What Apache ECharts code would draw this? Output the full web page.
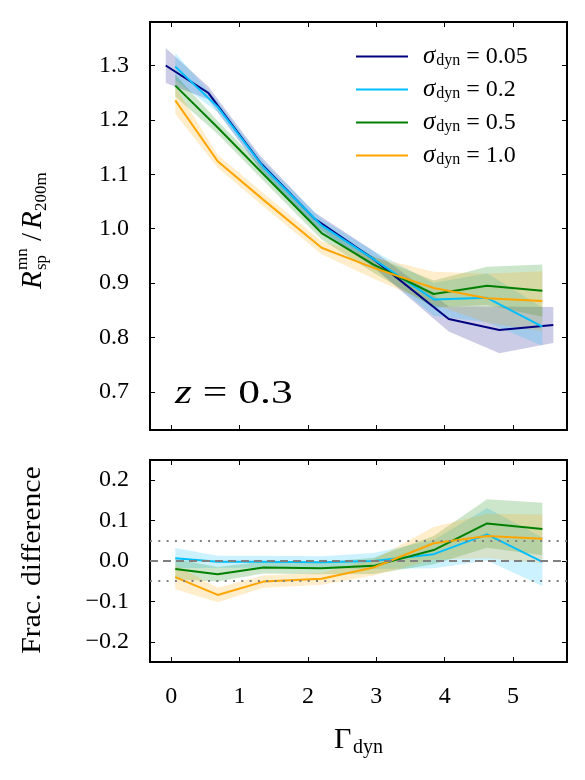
<!DOCTYPE html>
<html>
<head>
<meta charset="utf-8">
<script src="https://cdn.jsdelivr.net/npm/echarts@6/dist/echarts.min.js"></script>
<style>
  html, body { margin: 0; padding: 0; background: #fff; }
  #main { width: 585px; height: 780px; }
</style>
</head>
<body>
<div id="main"></div>
<script>
// reference bin (sigma_dyn = 0.05), its bins sit a bit left of the others
const darkX = [-0.08, 0.54, 1.30, 2.10, 2.95, 4.06, 4.80, 5.59];
const darkY = [1.300, 1.250, 1.122, 1.018, 0.945, 0.834, 0.814, 0.823];
const darkErr = [0.032, 0.012, 0.012, 0.012, 0.015, 0.023, 0.043, 0.033];

// bins for the other three
const binX = [0.06, 0.68, 1.35, 2.20, 2.96, 3.84, 4.62, 5.43];
const lightY = [1.298, 1.224, 1.113, 1.006, 0.944, 0.870, 0.873, 0.820];
const lightErr = [0.025, 0.010, 0.010, 0.012, 0.015, 0.030, 0.045, 0.035];
const greenY = [1.263, 1.186, 1.100, 0.992, 0.934, 0.880, 0.895, 0.886];
const greenErr = [0.020, 0.012, 0.012, 0.012, 0.015, 0.025, 0.035, 0.048];
const orangeY = [1.236, 1.124, 1.053, 0.965, 0.928, 0.891, 0.872, 0.867];
const orangeErr = [0.025, 0.012, 0.012, 0.012, 0.020, 0.030, 0.045, 0.055];

// fractional difference w.r.t. sigma_dyn = 0.05
const lightFrac = [0.007, -0.002, -0.002, -0.003, 0.000, 0.017, 0.066, -0.002];
const lightFracErr = [0.025, 0.015, 0.015, 0.015, 0.020, 0.035, 0.065, 0.060];
const greenFrac = [-0.020, -0.033, -0.016, -0.018, -0.012, 0.027, 0.093, 0.079];
const greenFracErr = [0.025, 0.018, 0.015, 0.015, 0.020, 0.035, 0.060, 0.065];
const orangeFrac = [-0.040, -0.084, -0.051, -0.044, -0.016, 0.044, 0.062, 0.055];
const orangeFracErr = [0.030, 0.018, 0.015, 0.015, 0.020, 0.040, 0.055, 0.060];

const sigmaNames = ["0.05", "0.2", "0.5", "1.0"];
const xTicks = [0, 1, 2, 3, 4, 5];
const topYTicks = [0.7, 0.8, 0.9, 1.0, 1.1, 1.2, 1.3];
const botYTicks = [-0.2, -0.1, 0.0, 0.1, 0.2];
const zeroLine = 0;
const dotLines = [0.05, -0.05];

const FONT = '"Liberation Serif", "DejaVu Serif", serif';
const colors = ["#000080", "#00bfff", "#008000", "#ffa500"];

const chart = echarts.init(document.getElementById("main"), null, { renderer: "canvas" });

const fmt = (v) => v.toFixed(1).replace("-", "\u2212");

const band = (gi, xs, ys, errs, color) => ({
  type: "custom",
  xAxisIndex: gi * 2,
  yAxisIndex: gi * 2,
  z: 1,
  silent: true,
  data: xs.map((x, i) => [x, ys[i]]),
  renderItem: (params, api) => {
    if (params.dataIndex !== 0) return null;
    const up = xs.map((x, i) => api.coord([x, ys[i] + errs[i]]));
    const lo = xs.map((x, i) => api.coord([x, ys[i] - errs[i]])).reverse();
    return {
      type: "polygon",
      shape: { points: up.concat(lo) },
      style: { fill: color, opacity: 0.2 },
    };
  },
});

const line = (gi, name, xs, ys, color) => ({
  type: "line",
  name: name,
  xAxisIndex: gi * 2,
  yAxisIndex: gi * 2,
  z: 3,
  symbol: "none",
  silent: true,
  color: color,
  lineStyle: { color: color, width: 2 },
  data: xs.map((x, i) => [x, ys[i]]),
});

const xAx = (gi, pos, labels) => ({
  type: "value",
  gridIndex: gi,
  position: pos,
  min: -0.31,
  max: 5.79,
  axisLine: { show: false, onZero: false },
  splitLine: { show: false },
  axisTick: { show: true, inside: true, length: 5, customValues: xTicks, lineStyle: { color: "#000", width: 1 } },
  axisLabel: {
    show: labels,
    customValues: xTicks,
    margin: 23,
    fontFamily: FONT,
    fontSize: 24,
    color: "#000",
  },
});

const yAx = (gi, pos, labels, min, max, ticks) => ({
  type: "value",
  gridIndex: gi,
  position: pos,
  min: min,
  max: max,
  axisLine: { show: false, onZero: false },
  splitLine: { show: false },
  axisTick: { show: true, inside: true, length: 5, customValues: ticks, lineStyle: { color: "#000", width: 1 } },
  axisLabel: {
    show: labels,
    customValues: ticks,
    margin: 21,
    fontFamily: FONT,
    fontSize: 24,
    color: "#000",
    formatter: fmt,
  },
});

const series = [
  band(0, darkX, darkY, darkErr, colors[0]),
  band(0, binX, lightY, lightErr, colors[1]),
  band(0, binX, greenY, greenErr, colors[2]),
  band(0, binX, orangeY, orangeErr, colors[3]),
  line(0, sigmaNames[0], darkX, darkY, colors[0]),
  line(0, sigmaNames[1], binX, lightY, colors[1]),
  line(0, sigmaNames[2], binX, greenY, colors[2]),
  line(0, sigmaNames[3], binX, orangeY, colors[3]),

  band(1, binX, lightFrac, lightFracErr, colors[1]),
  band(1, binX, greenFrac, greenFracErr, colors[2]),
  band(1, binX, orangeFrac, orangeFracErr, colors[3]),
  {
    type: "line",
    xAxisIndex: 2,
    yAxisIndex: 2,
    data: [],
    z: 2,
    markLine: {
      silent: true,
      symbol: "none",
      label: { show: false },
      data: [
        { yAxis: zeroLine, lineStyle: { color: "#808080", width: 2, type: [8, 5] } },
        ...dotLines.map((v) => ({ yAxis: v, lineStyle: { color: "#808080", width: 2, type: [2, 6.3] } })),
      ],
    },
  },
  line(1, "f1", binX, lightFrac, colors[1]),
  line(1, "f2", binX, greenFrac, colors[2]),
  line(1, "f3", binX, orangeFrac, colors[3]),
];

const option = {
  backgroundColor: "#fff",
  animation: false,
  grid: [
    { left: 150, top: 22, width: 417, height: 408, show: true, borderColor: "#000", borderWidth: 2, backgroundColor: "transparent" },
    { left: 150, top: 460, width: 417, height: 202, show: true, borderColor: "#000", borderWidth: 2, backgroundColor: "transparent" },
  ],
  xAxis: [xAx(0, "bottom", false), xAx(0, "top", false), xAx(1, "bottom", true), xAx(1, "top", false)],
  yAxis: [
    yAx(0, "left", true, 0.63, 1.38, topYTicks),
    yAx(0, "right", false, 0.63, 1.38, topYTicks),
    yAx(1, "left", true, -0.25, 0.25, botYTicks),
    yAx(1, "right", false, -0.25, 0.25, botYTicks),
  ],
  legend: {
    data: sigmaNames,
    orient: "vertical",
    left: 351,
    top: 39,
    icon: "rect",
    itemWidth: 52,
    itemHeight: 2,
    itemGap: 8,
    selectedMode: false,
    formatter: (name) => "{s|\u03c3}{sub|dyn}{t| = " + name + "}",
    textStyle: {
      rich: {
        s: { fontFamily: FONT, fontStyle: "italic", fontSize: 25, color: "#000", padding: [0, 0, 0, 10] },
        sub: { fontFamily: FONT, fontSize: 16, color: "#000", padding: [9, 0, 0, 1] },
        t: { fontFamily: FONT, fontSize: 24, color: "#000" },
      },
    },
  },
  graphic: [
    {
      type: "group",
      x: 33,
      y: 229,
      rotation: Math.PI / 2,
      children: [
        { type: "text", x: -60, y: 0, style: { text: "R", font: "italic 29px " + FONT, fill: "#000", verticalAlign: "middle" } },
        { type: "text", x: -41, y: -10, style: { text: "mn", font: "17px " + FONT, fill: "#000", verticalAlign: "middle" } },
        { type: "text", x: -41, y: 9, style: { text: "sp", font: "17px " + FONT, fill: "#000", verticalAlign: "middle" } },
        { type: "text", x: -12, y: 0, style: { text: "/", font: "29px " + FONT, fill: "#000", verticalAlign: "middle" } },
        { type: "text", x: 0, y: 0, style: { text: "R", font: "italic 29px " + FONT, fill: "#000", verticalAlign: "middle" } },
        { type: "text", x: 18, y: 9, style: { text: "200m", font: "17px " + FONT, fill: "#000", verticalAlign: "middle" } },
      ],
    },
    {
      type: "text",
      x: 33,
      y: 560,
      rotation: Math.PI / 2,
      scaleX: 1.1,
      style: { text: "Frac. difference", font: "27px " + FONT, fill: "#000", align: "center", verticalAlign: "middle" },
    },
    {
      type: "text",
      x: 175,
      y: 394,
      scaleX: 1.28,
      style: {
        text: "{i|z} = 0.3",
        font: "34px " + FONT,
        fill: "#000",
        verticalAlign: "middle",
        rich: { i: { font: "italic 34px " + FONT, fill: "#000" } },
      },
    },
    { type: "text", x: 334, y: 740, style: { text: "\u0393", font: "30px " + FONT, fill: "#000", verticalAlign: "middle" } },
    { type: "text", x: 353, y: 748, style: { text: "dyn", font: "20px " + FONT, fill: "#000", verticalAlign: "middle" } },
  ],
  series: series,
};

chart.setOption(option);
</script>
</body>
</html>
